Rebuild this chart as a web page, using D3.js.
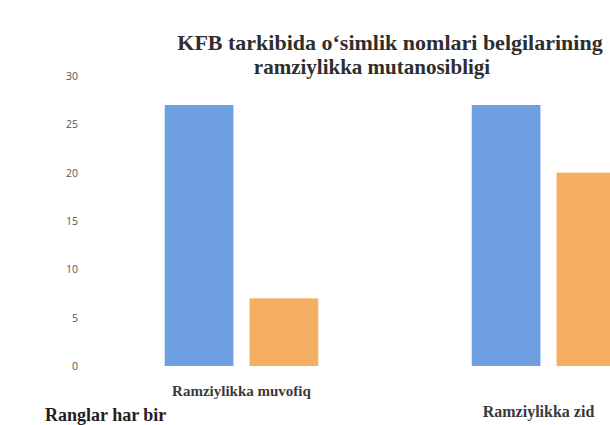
<!DOCTYPE html>
<html>
<head>
<meta charset="utf-8">
<script src="https://cdn.jsdelivr.net/npm/d3@7"></script>
<style>
  html, body { margin: 0; padding: 0; background: #fff; overflow: hidden; }
</style>
</head>
<body>
<div id="chart"></div>
<script>
const categories = ["Ramziylikka muvofiq", "Ramziylikka zid"];
const series = ["A", "B"];
const valuesA = [27, 27];
const valuesB = [7, 20];
const yTicks = [0, 5, 10, 15, 20, 25, 30];
const titleLines = ["KFB tarkibida o\u2018simlik nomlari belgilarining", "ramziylikka mutanosibligi"];

const width = 610;
const height = 425;

const colors = { A: "#6e9fe0", B: "#f5af62" };

const rows = categories.map((c, i) => ({ cat: c, A: valuesA[i], B: valuesB[i] }));

const svg = d3.select("#chart").append("svg")
    .attr("width", width)
    .attr("height", height)
    .style("font-family", "'Liberation Serif', 'DejaVu Serif', serif");

const x0 = d3.scaleBand()
    .domain(categories)
    .range([88, 702])
    .paddingInner(0.5)
    .paddingOuter(0.25);

const x1 = d3.scaleBand()
    .domain(series)
    .range([0, x0.bandwidth()])
    .paddingInner(0.19);

const y = d3.scaleLinear()
    .domain([0, 30])
    .range([366, 76]);

// y tick labels, no axis line
const yAxis = d3.axisLeft(y).tickValues(yTicks).tickSize(0).tickPadding(0);
const ya = svg.append("g")
    .attr("transform", "translate(78,0)")
    .call(yAxis);
ya.select(".domain").remove();
ya.selectAll("text")
    .attr("fill", "#555")
    .style("font-family", "'Open Sans', 'DejaVu Sans', sans-serif")
    .style("font-size", "10.5px");

// bars
const groups = svg.selectAll("g.grp")
    .data(rows)
    .join("g")
    .attr("class", "grp")
    .attr("transform", d => `translate(${x0(d.cat)},0)`);

groups.selectAll("rect")
    .data(d => series.map(s => ({ key: s, value: d[s] })))
    .join("rect")
    .attr("x", d => x1(d.key))
    .attr("y", d => y(d.value))
    .attr("width", x1.bandwidth())
    .attr("height", d => y(0) - y(d.value))
    .attr("fill", d => colors[d.key]);

// category labels
svg.append("g")
    .selectAll("text")
    .data(categories)
    .join("text")
    .attr("x", (d, i) => x0(d) + x0.bandwidth() / 2 + (i === 0 ? 0 : -10))
    .attr("y", (d, i) => i === 0 ? 396 : 417)
    .attr("text-anchor", "middle")
    .attr("fill", "#3a3a3a")
    .attr("font-weight", "bold")
    .style("font-size", (d, i) => i === 0 ? "15px" : "16px")
    .text(d => d);

// title
svg.append("text")
    .attr("text-anchor", "middle")
    .attr("fill", "#2e2e2e")
    .attr("font-weight", "bold")
    .selectAll("tspan")
    .data(titleLines)
    .join("tspan")
    .attr("x", (d, i) => i === 0 ? 390 : 372)
    .attr("y", (d, i) => 50 + i * 24)
    .style("font-size", (d, i) => i === 0 ? "22px" : "21px")
    .text(d => d);

// caption under the chart (cut by the page edge)
svg.append("text")
    .attr("x", 45)
    .attr("y", 421)
    .attr("fill", "#1e1e1e")
    .attr("font-weight", "bold")
    .style("font-size", "18px")
    .text("Ranglar har bir");
</script>
</body>
</html>
